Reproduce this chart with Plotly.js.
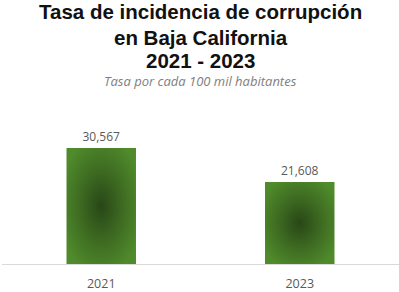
<!DOCTYPE html>
<html>
<head>
<meta charset="utf-8">
<script src="https://cdn.plot.ly/plotly-3.0.1.min.js"></script>
<style>html,body{margin:0;padding:0;background:#fff;}#chart{width:399px;height:292px;}</style>
</head>
<body>
<div id="chart"></div>
<script>
const years = ["2021", "2023"];
const rates = [30567, 21608];
const titleLines = ["Tasa de incidencia de corrupción", "en Baja California", "2021 - 2023"];
const subtitleText = "Tasa por cada 100 mil habitantes";

const trace = {
  type: "bar",
  x: years,
  y: rates,
  width: 0.35,
  marker: { color: "#4c8229", line: { width: 0 } },
  text: rates.map(v => v.toLocaleString("en-US")),
  textposition: "outside",
  textfont: { family: "Open Sans, sans-serif", size: 12, color: "#595959" },
  cliponaxis: false,
  hoverinfo: "skip"
};

const titleShifts = [108.5, 83, 60];
const annotations = titleLines.map((t, i) => ({
  text: t,
  xref: "paper", yref: "paper",
  x: 0.5, xanchor: "center",
  y: 1, yanchor: "middle", yshift: titleShifts[i],
  showarrow: false,
  font: { family: "Liberation Sans, Arial, sans-serif", size: 20.5, color: "#111111", weight: "bold" }
}));
annotations.push({
  text: subtitleText,
  xref: "paper", yref: "paper",
  x: 0.5, xanchor: "center",
  y: 1, yanchor: "middle", yshift: 39,
  showarrow: false,
  font: { family: "Open Sans, sans-serif", size: 13, color: "#808080", style: "italic" }
});

const layout = {
  width: 399,
  height: 292,
  margin: { l: 2, r: 0, t: 120, b: 28, pad: 0 },
  paper_bgcolor: "#ffffff",
  plot_bgcolor: "#ffffff",
  showlegend: false,
  annotations: annotations,
  xaxis: {
    type: "category",
    showline: true, linecolor: "#d9d9d9", linewidth: 1,
    showgrid: false, zeroline: false, ticks: "",
    ticklabelstandoff: 8,
    tickfont: { family: "Open Sans, sans-serif", size: 12.5, color: "#595959" },
    fixedrange: true
  },
  yaxis: {
    range: [0, 37945],
    visible: false, showgrid: false, zeroline: false,
    fixedrange: true
  },
  bargap: 0.65
};

Plotly.newPlot("chart", [trace], layout, { displayModeBar: false, staticPlot: true }).then(gd => {
  const svg = gd.querySelector("svg.main-svg");
  const ns = "http://www.w3.org/2000/svg";
  let defs = svg.querySelector("defs");
  if (!defs) { defs = document.createElementNS(ns, "defs"); svg.insertBefore(defs, svg.firstChild); }
  const grad = document.createElementNS(ns, "radialGradient");
  grad.setAttribute("id", "barGrad");
  grad.setAttribute("cx", "0.5"); grad.setAttribute("cy", "0.5");
  grad.setAttribute("r", "0.6");
  [["0", "#284717"], ["0.55", "#3f6d22"], ["1", "#4f8a2b"]].forEach(([o, c]) => {
    const s = document.createElementNS(ns, "stop");
    s.setAttribute("offset", o); s.setAttribute("stop-color", c);
    grad.appendChild(s);
  });
  defs.appendChild(grad);
  gd.querySelectorAll(".bars .point path").forEach(p => { p.style.fill = "url(#barGrad)"; });
});
</script>
</body>
</html>
